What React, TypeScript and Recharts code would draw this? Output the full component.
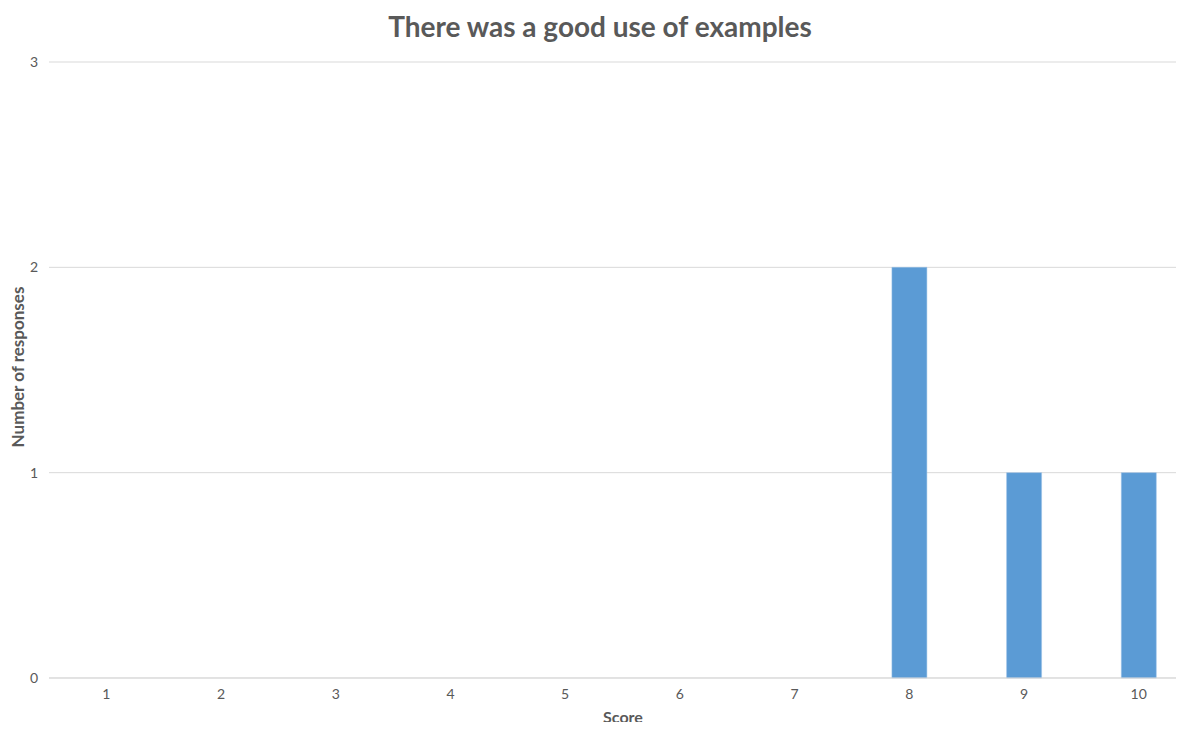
import { BarChart, Bar, XAxis, YAxis, CartesianGrid } from 'recharts';

const scores = ['1', '2', '3', '4', '5', '6', '7', '8', '9', '10'];
const responses = [0, 0, 0, 0, 0, 0, 0, 2, 1, 1];
const yTicks = [0, 1, 2, 3];

const chartTitle = 'There was a good use of examples';
const xTitle = 'Score';
const yTitle = 'Number of responses';

const textColor = '#595959';
const font = 'Lato, "Open Sans", sans-serif';

export default function App() {
    const data = scores.map((s, i) => ({ score: s, count: responses[i] }));

    return (
        <div style={{ position: 'relative', width: 1184, height: 730, margin: -8, overflow: 'hidden', background: '#fff', fontFamily: font }}>
            <div style={{ position: 'absolute', top: 0, left: 0 }}>
                <BarChart
                    width={1196}
                    height={730}
                    data={data}
                    margin={{ top: 62, right: 0, left: 0, bottom: 0 }}
                >
                    <CartesianGrid vertical={false} stroke="#d9d9d9" />
                    <XAxis
                        dataKey="score"
                        height={52}
                        axisLine={{ stroke: '#d9d9d9' }}
                        tickLine={false}
                        tickSize={0}
                        tickMargin={11}
                        tick={{ fill: textColor, fontSize: 14, fontFamily: font }}
                    />
                    <YAxis
                        width={49}
                        domain={[0, 3]}
                        ticks={yTicks}
                        axisLine={false}
                        tickLine={false}
                        tickSize={0}
                        tickMargin={11}
                        tick={{ fill: textColor, fontSize: 14, fontFamily: font }}
                    />
                    <Bar dataKey="count" barSize={35} fill="#5B9BD5" stroke="#9dc3e6" strokeWidth={0.5} isAnimationActive={false} />
                </BarChart>
            </div>

            {/* chart title, centred a little left of the plot like the original */}
            <div style={{ position: 'absolute', left: 600, top: 26, transform: 'translate(-50%, -50%)', whiteSpace: 'nowrap', fontSize: 28, fontWeight: 700, color: textColor }}>
                {chartTitle}
            </div>

            {/* axis titles */}
            <div style={{ position: 'absolute', left: 17, top: 367, transform: 'translate(-50%, -50%) rotate(-90deg)', whiteSpace: 'nowrap', fontSize: 17, fontWeight: 700, color: textColor }}>
                {yTitle}
            </div>
            <div style={{ position: 'absolute', left: 623, top: 716, transform: 'translate(-50%, -50%)', whiteSpace: 'nowrap', fontSize: 16, fontWeight: 700, color: textColor }}>
                {xTitle}
            </div>
        </div>
    );
}
